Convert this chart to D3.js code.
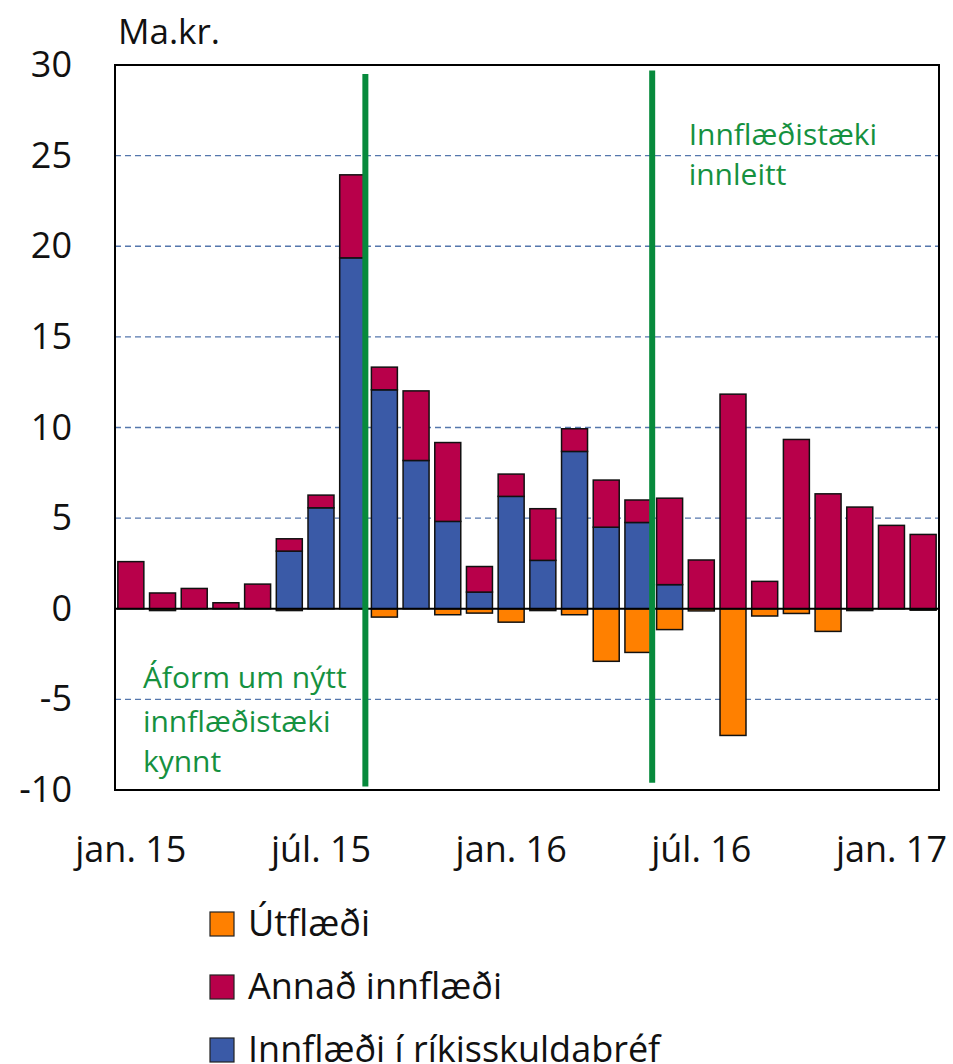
<!DOCTYPE html>
<html><head><meta charset="utf-8">
<script src="https://cdn.jsdelivr.net/npm/d3@7"></script>
<style>body{margin:0;background:#fff}svg{display:block}text{font-family:"Open Sans",sans-serif}</style>
</head><body><svg id="c" width="953" height="1064"></svg>
<script>
const categories = ["jan. 15","feb. 15","mar. 15","apr. 15","maí 15","jún. 15","júl. 15","ágú. 15","sep. 15","okt. 15","nóv. 15","des. 15",
"jan. 16","feb. 16","mar. 16","apr. 16","maí 16","jún. 16","júl. 16","ágú. 16","sep. 16","okt. 16","nóv. 16","des. 16","jan. 17","feb. 17"];
const rikisskuldabref = [0,0,0,0,0,3.18,5.57,19.36,12.08,8.18,4.82,0.92,6.2,2.67,8.68,4.5,4.76,1.33,0,0,0,0,0,0,0,0];
const annadInnflaedi = [2.6,0.87,1.12,0.33,1.36,0.68,0.70,4.58,1.25,3.84,4.35,1.41,1.23,2.85,1.25,2.6,1.24,4.77,2.69,11.84,1.51,9.34,6.34,5.61,4.6,4.1];
const utflaedi = [0,-0.1,0,0,0,-0.1,0,0,-0.46,0,-0.33,-0.24,-0.74,-0.1,-0.33,-2.9,-2.41,-1.15,-0.12,-6.99,-0.4,-0.26,-1.25,-0.1,0,-0.08];
const yTicks = [-10,-5,0,5,10,15,20,25,30];
const xTickLabels = ["jan. 15","júl. 15","jan. 16","júl. 16","jan. 17"];
const seriesNames = ["Útflæði","Annað innflæði","Innflæði í ríkisskuldabréf"];
const seriesColors = ["#FF8000","#B8004A","#3A5AA7"];
const markerIdx = [7.9, 16.95];
const markerRange = [[29.5,-9.8],[29.7,-9.6]];
const notes = [
  {lines:["Áform um nýtt","innflæðistæki","kynnt"], idx:0.88, y:[-4.38,-6.78,-8.99]},
  {lines:["Innflæðistæki","innleitt"], idx:18.1, y:[25.6,23.4]}
];

const svg = d3.select("#c");
const L=115, R=939, T=65, B=790;
const x = d3.scaleBand().domain(categories).range([L,R]).paddingInner(0.18).paddingOuter(0.09);
const y = d3.scaleLinear().domain([-10,30]).range([B,T]);
const xi = i => L + (R-L)/categories.length * i;

// gridlines
svg.append("g").selectAll("line").data(yTicks.filter(v=>v!==0&&v!==30&&v!==-10)).join("line")
  .attr("x1",L).attr("x2",R).attr("y1",d=>y(d)).attr("y2",d=>y(d))
  .attr("stroke","#5577AD").attr("stroke-width",1.3).attr("stroke-dasharray","6,4");

const bars = svg.append("g");
const W = x.bandwidth();
bars.selectAll(".b").data(categories).join("rect")
  .attr("x",d=>x(d)).attr("width",W)
  .attr("y",(d,i)=>y(rikisskuldabref[i])).attr("height",(d,i)=>y(0)-y(rikisskuldabref[i]))
  .attr("fill",seriesColors[2]).attr("stroke","#111").attr("stroke-width",1.5);
bars.selectAll(".a").data(categories).join("rect")
  .attr("x",d=>x(d)).attr("width",W)
  .attr("y",(d,i)=>y(rikisskuldabref[i]+annadInnflaedi[i])).attr("height",(d,i)=>y(rikisskuldabref[i])-y(rikisskuldabref[i]+annadInnflaedi[i]))
  .attr("fill",seriesColors[1]).attr("stroke","#111").attr("stroke-width",1.5);
bars.selectAll(".u").data(categories).join("rect")
  .attr("x",d=>x(d)).attr("width",W)
  .attr("y",y(0)).attr("height",(d,i)=>y(utflaedi[i])-y(0))
  .attr("fill",seriesColors[0]).attr("stroke","#111").attr("stroke-width",1.5);

svg.append("line").attr("x1",L).attr("x2",R).attr("y1",y(0)).attr("y2",y(0)).attr("stroke","#000").attr("stroke-width",2.2);
svg.append("rect").attr("x",L).attr("y",T).attr("width",R-L).attr("height",B-T).attr("fill","none").attr("stroke","#000").attr("stroke-width",2);

svg.append("g").selectAll("line").data(markerIdx).join("line")
  .attr("x1",d=>xi(d)).attr("x2",d=>xi(d))
  .attr("y1",(d,i)=>y(markerRange[i][0])).attr("y2",(d,i)=>y(markerRange[i][1]))
  .attr("stroke","#078A3C").attr("stroke-width",6);

notes.forEach(n=>{
  const t = svg.append("text").attr("fill","#15913F").attr("font-size",30);
  n.lines.forEach((s,k)=>t.append("tspan").attr("x",xi(n.idx)).attr("y",y(n.y[k])).text(s));
});

const ya = svg.append("g").attr("transform",`translate(${L},0)`)
  .call(d3.axisLeft(y).tickValues(yTicks).tickSize(0).tickPadding(43).tickFormat(d=>String(d)));
ya.select(".domain").remove();
ya.selectAll("text").attr("font-size",36).attr("font-family","Open Sans").attr("fill","#111");

const xa = svg.append("g").attr("transform",`translate(0,${B})`)
  .call(d3.axisBottom(x).tickValues(xTickLabels).tickSize(0).tickPadding(0));
xa.select(".domain").remove();
xa.selectAll("text").attr("font-size",36).attr("font-family","Open Sans").attr("fill","#111").attr("dy",null).attr("y",72);

svg.append("text").attr("x",118).attr("y",44).attr("font-size",35).attr("fill","#111").text("Ma.kr.");

const lg = svg.append("g").selectAll("g").data(seriesNames).join("g")
  .attr("transform",(d,i)=>`translate(210,${912+i*63})`);
lg.append("rect").attr("width",24).attr("height",24).attr("fill",(d,i)=>seriesColors[i]).attr("stroke","#222").attr("stroke-width",1.2);
lg.append("text").attr("x",38).attr("y",24).attr("font-size",36).attr("fill","#111").text(d=>d);
</script></body></html>
